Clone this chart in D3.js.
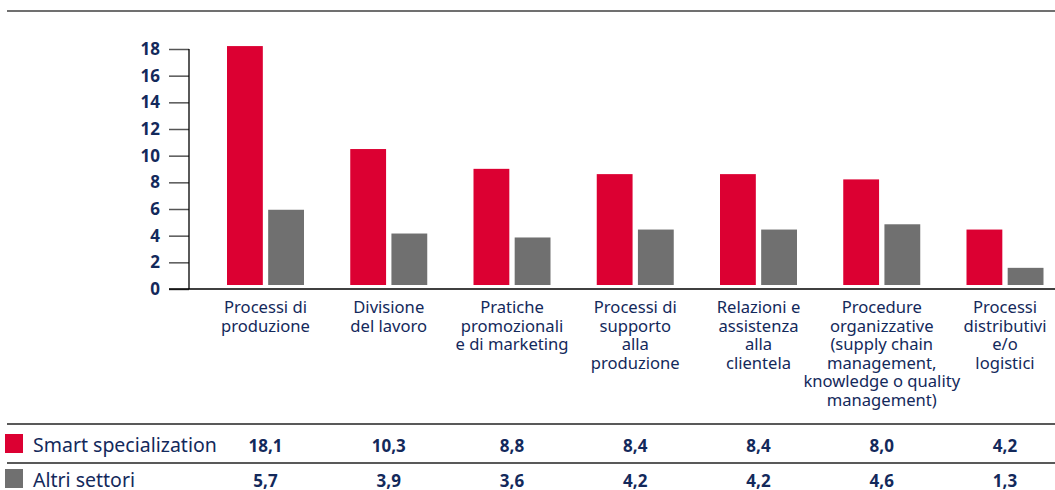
<!DOCTYPE html>
<html>
<head>
<meta charset="utf-8">
<script src="https://cdn.jsdelivr.net/npm/d3@7"></script>
<style>
  body { margin: 0; background: #fff; }
  text { font-family: "Noto Sans", sans-serif; fill: #13295b; }
</style>
</head>
<body>
<div id="chart"></div>
<script>
//************************************************************************
// data
//************************************************************************
var categories = [
  "Processi di\nproduzione",
  "Divisione\ndel lavoro",
  "Pratiche\npromozionali\ne di marketing",
  "Processi di\nsupporto\nalla\nproduzione",
  "Relazioni e\nassistenza\nalla\nclientela",
  "Procedure\norganizzative\n(supply chain\nmanagement,\nknowledge o quality\nmanagement)",
  "Processi\ndistributivi\ne/o\nlogistici"
];
var seriesNames = ["Smart specialization", "Altri settori"];
var smartValues = [18.1, 10.3, 8.8, 8.4, 8.4, 8.0, 4.2];
var altriValues = [5.7, 3.9, 3.6, 4.2, 4.2, 4.6, 1.3];
var yTicks = [0, 2, 4, 6, 8, 10, 12, 14, 16, 18];

var colors = { "Smart specialization": "#dc0032", "Altri settori": "#707070" };

//************************************************************************
// svg
//************************************************************************
var svgWidth = 1055;
var svgHeight = 490;

var svg = d3.select("#chart")
  .append("svg")
  .attr("width", svgWidth)
  .attr("height", svgHeight);

// top rule
svg.append("line")
  .attr("x1", 7).attr("x2", svgWidth)
  .attr("y1", 11).attr("y2", 11)
  .attr("stroke", "#707070")
  .attr("stroke-width", 2);

//************************************************************************
// scales
//************************************************************************
var axisX = 189;
var x0 = d3.scalePoint()
  .domain(categories)
  .range([265.5, 1005]);

var x1 = d3.scaleBand()
  .domain(seriesNames)
  .range([-38.5, 38.5])
  .paddingInner(0.13);

// axis scale
var y = d3.scaleLinear().domain([0, 18]).range([289, 49]);
// bars sit slightly above the axis line in the original
var yBar = d3.scaleLinear().domain([0, 18]).range([285, 47.4]);

//************************************************************************
// axes
//************************************************************************
var leftAxis = d3.axisLeft(y)
  .tickValues(yTicks)
  .tickSize(20)
  .tickPadding(9);

var yAxis = svg.append("g")
  .attr("transform", `translate(${axisX}, 0)`)
  .call(leftAxis);

yAxis.select(".domain").remove();
yAxis.selectAll(".tick line")
  .attr("stroke", "#555")
  .attr("stroke-width", 1.5);
yAxis.selectAll(".tick text")
  .style("font-size", "17px")
  .style("font-weight", "bold")
  .attr("fill", "#13295b");

svg.append("line")
  .attr("x1", axisX).attr("x2", axisX)
  .attr("y1", y(18)).attr("y2", y(0))
  .attr("stroke", "#000").attr("stroke-width", 1.3);

svg.append("line")
  .attr("x1", axisX - 20).attr("x2", svgWidth)
  .attr("y1", y(0)).attr("y2", y(0))
  .attr("stroke", "#000").attr("stroke-width", 1.3);

//************************************************************************
// bars
//************************************************************************
var rows = categories.map((c, i) => ({
  cat: c,
  vals: [
    { name: seriesNames[0], value: smartValues[i] },
    { name: seriesNames[1], value: altriValues[i] }
  ]
}));

var groups = svg.selectAll(".grp")
  .data(rows)
  .enter().append("g")
  .attr("class", "grp")
  .attr("transform", d => `translate(${x0(d.cat)}, 0)`);

groups.selectAll("rect")
  .data(d => d.vals)
  .enter().append("rect")
  .attr("x", d => x1(d.name))
  .attr("width", x1.bandwidth())
  .attr("y", d => yBar(d.value))
  .attr("height", d => yBar(0) - yBar(d.value))
  .attr("fill", d => colors[d.name]);

//************************************************************************
// category labels
//************************************************************************
groups.append("text")
  .attr("text-anchor", "middle")
  .style("font-size", "16.6px")
  .each(function (d) {
    var t = d3.select(this);
    d.cat.split("\n").forEach((line, k) => {
      t.append("tspan")
        .attr("x", 0)
        .attr("y", 313 + k * 18.6)
        .text(line);
    });
  });

//************************************************************************
// table
//************************************************************************
svg.append("line")
  .attr("x1", 7).attr("x2", svgWidth)
  .attr("y1", 424).attr("y2", 424)
  .attr("stroke", "#222").attr("stroke-width", 1.5);
svg.append("line")
  .attr("x1", 7).attr("x2", svgWidth)
  .attr("y1", 463).attr("y2", 463)
  .attr("stroke", "#222").attr("stroke-width", 1.5);

var tableRows = [
  { name: seriesNames[0], values: smartValues, yText: 452 },
  { name: seriesNames[1], values: altriValues, yText: 487 }
];

var fmt = v => d3.format(".1f")(v).replace(".", ",");

tableRows.forEach(r => {
  svg.append("rect")
    .attr("x", 5).attr("y", r.yText - 18)
    .attr("width", 18).attr("height", 19)
    .attr("fill", colors[r.name]);
  svg.append("text")
    .attr("x", 33).attr("y", r.yText)
    .style("font-size", "19.5px")
    .text(r.name);
  svg.selectAll(null)
    .data(r.values)
    .enter().append("text")
    .attr("x", (d, i) => x0(categories[i]))
    .attr("y", r.yText)
    .attr("text-anchor", "middle")
    .style("font-size", "17px")
    .style("font-weight", "bold")
    .text(d => fmt(d));
});
</script>
</body>
</html>
